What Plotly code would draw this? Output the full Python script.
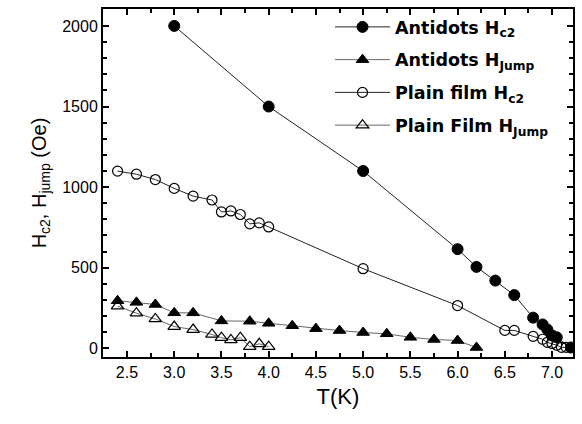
import plotly.graph_objects as go

# Antidots Hc2
ad_hc2_T = [3.0, 4.0, 5.0, 6.0, 6.2, 6.4, 6.6, 6.8, 6.9, 6.95, 7.0, 7.05, 7.2]
ad_hc2_H = [2000, 1500, 1100, 615, 505, 420, 330, 190, 148, 117, 80, 68, 5]

# Antidots HJump
ad_hj_T = [2.4, 2.6, 2.8, 3.0, 3.2, 3.5, 3.8, 4.0, 4.25, 4.5, 4.75, 5.0, 5.25, 5.5, 5.75, 6.0, 6.2]
ad_hj_H = [295, 285, 272, 220, 220, 170, 168, 155, 140, 122, 110, 98, 90, 68, 55, 48, 5]

# Plain film Hc2
pf_hc2_T = [2.4, 2.6, 2.8, 3.0, 3.2, 3.4, 3.5, 3.6, 3.7, 3.8, 3.9, 4.0, 5.0, 6.0,
            6.5, 6.6, 6.8, 6.9, 6.95, 7.0, 7.05, 7.1, 7.15]
pf_hc2_H = [1099, 1080, 1047, 992, 944, 920, 846, 852, 830, 772, 778, 753, 494, 265,
            111, 111, 74, 56, 37, 30, 19, 6, 6]

# Plain film HJump
pf_hj_T = [2.4, 2.6, 2.8, 3.0, 3.2, 3.4, 3.5, 3.6, 3.7, 3.8, 3.9, 4.0]
pf_hj_H = [262, 218, 182, 135, 116, 86, 66, 52, 66, 10, 28, 10]

x_ticks = [2.5, 3.0, 3.5, 4.0, 4.5, 5.0, 5.5, 6.0, 6.5, 7.0]
y_ticks = [0, 500, 1000, 1500, 2000]

FONT = "Liberation Sans"

fig = go.Figure()

fig.add_trace(go.Scatter(x=ad_hc2_T, y=ad_hc2_H, mode="lines+markers",
                         name="Antidots H<sub>c2</sub>", legendgroup="a",
                         line=dict(color="#222222", width=1),
                         marker=dict(symbol="circle", size=11, color="black",
                                     line=dict(color="black", width=1))))
fig.add_trace(go.Scatter(x=ad_hj_T, y=ad_hj_H, mode="lines+markers",
                         name="Antidots H<sub>Jump</sub>", legendgroup="b",
                         line=dict(color="#666666", width=1),
                         marker=dict(symbol="triangle-up", size=11, color="black",
                                     line=dict(color="black", width=1))))
fig.add_trace(go.Scatter(x=pf_hc2_T, y=pf_hc2_H, mode="lines+markers",
                         name="Plain film H<sub>c2</sub>", legendgroup="c",
                         line=dict(color="#222222", width=1),
                         marker=dict(symbol="circle-open", size=10, color="black",
                                     line=dict(color="black", width=1.2))))
fig.add_trace(go.Scatter(x=pf_hj_T, y=pf_hj_H, mode="lines+markers",
                         name="Plain Film H<sub>Jump</sub>", legendgroup="d",
                         line=dict(color="#666666", width=1),
                         marker=dict(symbol="triangle-up-open", size=11, color="black",
                                     line=dict(color="black", width=1.2))))

axis_common = dict(showline=True, linecolor="black", linewidth=2, mirror="ticks",
                   ticks="inside", ticklen=6, tickwidth=2, tickcolor="black",
                   showgrid=False, zeroline=False,
                   tickfont=dict(family=FONT, size=16, color="black"))

fig.update_xaxes(range=[2.246, 7.222], tickvals=x_ticks,
                 ticktext=[f"{v:.1f}" for v in x_ticks],
                 minor=dict(dtick=0.25, tick0=0, ticks="inside", ticklen=4, tickwidth=1.5,
                            tickcolor="black"),
                 title=dict(text="T(K)", font=dict(family=FONT, size=22, color="black"),
                            standoff=8),
                 **axis_common)
fig.update_yaxes(range=[-54, 2105], tickvals=y_ticks,
                 minor=dict(dtick=100, tick0=0, ticks="inside", ticklen=4, tickwidth=1.5,
                            tickcolor="black"),
                 title=dict(text="H<sub>c2</sub>, H<sub>jump</sub> (Oe)",
                            font=dict(family=FONT, size=20, color="black"),
                            standoff=10),
                 **axis_common)

fig.update_layout(
    width=582, height=424,
    margin=dict(l=103, r=9, t=7, b=67),
    plot_bgcolor="white", paper_bgcolor="white",
    showlegend=True,
    legend=dict(x=0.483, y=1.0, xanchor="left", yanchor="top",
                bgcolor="rgba(0,0,0,0)", borderwidth=0,
                font=dict(family="DejaVu Sans", size=17.5, color="black", weight="bold"),
                itemwidth=55, tracegroupgap=7),
)

fig.write_html("out.html")
